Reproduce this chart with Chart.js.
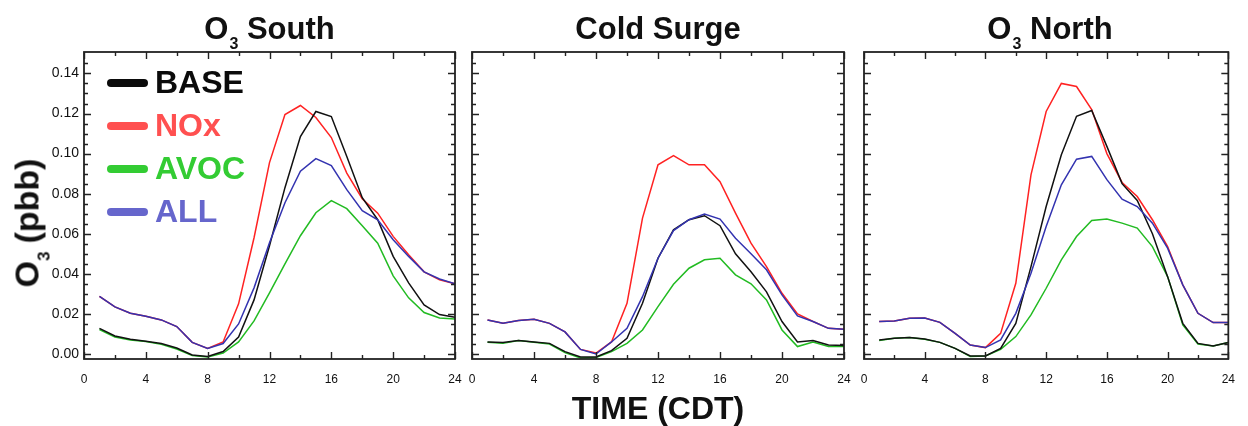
<!DOCTYPE html>
<html>
<head>
<meta charset="utf-8">
<script src="https://cdn.jsdelivr.net/npm/chart.js@4.4.1/dist/chart.umd.min.js"></script>
<style>
  body { margin: 0; width: 1248px; height: 426px; background: #fff; position: relative; overflow: hidden;
         font-family: "Liberation Sans", Arial, sans-serif; }
  canvas { position: absolute; top: 0; }
  .title { position: absolute; top: 13px; text-align: center; font-weight: bold; font-size: 31px;
           line-height: 31px; color: #111; white-space: nowrap; }
  .title span { font-size: 16px; position: relative; top: 10px; margin-left: 1px; }
  #ylab { position: absolute; left: 30px; top: 223px; transform: translate(-50%, -50%) rotate(-90deg);
          font-weight: bold; font-size: 34px; line-height: 34px; color: #111; white-space: nowrap; }
  #ylab span { font-size: 17px; position: relative; top: 11px; margin-right: 8px; }
  #xlab { position: absolute; left: 472px; width: 372px; top: 392px; text-align: center; font-weight: bold;
          font-size: 32px; line-height: 32px; color: #111; }
  #legend { position: absolute; left: 107px; top: 61px; }
  #legend .row { display: flex; align-items: center; height: 43px; }
  #legend i { display: block; width: 41px; height: 8px; border-radius: 4px; margin-right: 7px; }
  #legend b { font-size: 32px; line-height: 43px; }
</style>
</head>
<body>
<canvas id="south" width="475" height="426" style="left:0px"></canvas>
<canvas id="cold" width="412" height="426" style="left:452px"></canvas>
<canvas id="north" width="404" height="426" style="left:844px"></canvas>

<div class="title" style="left:84px;width:371px">O<span>3</span> South</div>
<div class="title" style="left:472px;width:372px">Cold Surge</div>
<div class="title" style="left:864px;width:372px">O<span>3</span> North</div>
<div id="ylab">O<span>3</span>(pbb)</div>
<div id="xlab">TIME (CDT)</div>
<div id="legend"></div>

<script>
const hours = [1, 2, 3, 4, 5, 6, 7, 8, 9, 10, 11, 12, 13, 14, 15, 16, 17, 18, 19, 20, 21, 22, 23, 24];
const xTicks = [0, 4, 8, 12, 16, 20, 24];
const yTicks = [0, 0.02, 0.04, 0.06, 0.08, 0.10, 0.12, 0.14];
const seriesNames = ["BASE", "NOx", "AVOC", "ALL"];

// O3 South
const southBase = [0.0128, 0.0090, 0.0074, 0.0064, 0.0052, 0.0030, -0.0005, -0.0012, 0.0012, 0.0085, 0.0270, 0.0540, 0.0830, 0.1085, 0.1210, 0.1185, 0.0985, 0.0780, 0.0670, 0.0487, 0.0355, 0.0245, 0.0197, 0.0183];
const southNox = [0.0288, 0.0235, 0.0203, 0.0188, 0.0170, 0.0137, 0.0058, 0.0028, 0.0060, 0.0250, 0.0580, 0.0955, 0.1195, 0.1240, 0.1180, 0.1080, 0.0903, 0.0775, 0.0703, 0.0587, 0.0495, 0.0410, 0.0370, 0.0350];
const southAvoc = [0.0122, 0.0085, 0.0070, 0.0062, 0.0048, 0.0025, -0.0008, -0.0015, 0.0005, 0.0060, 0.0165, 0.0305, 0.0450, 0.0590, 0.0705, 0.0765, 0.0725, 0.0640, 0.0553, 0.0390, 0.0280, 0.0207, 0.0180, 0.0175];
const southAll = [0.0288, 0.0235, 0.0203, 0.0188, 0.0170, 0.0137, 0.0058, 0.0028, 0.0052, 0.0150, 0.0330, 0.0555, 0.0755, 0.0912, 0.0975, 0.0940, 0.0820, 0.0715, 0.0670, 0.0570, 0.0487, 0.0410, 0.0374, 0.0350];

// Cold Surge
const coldBase = [0.0060, 0.0057, 0.0067, 0.0060, 0.0053, 0.0012, -0.0015, -0.0015, 0.0017, 0.0078, 0.0253, 0.0478, 0.0620, 0.0670, 0.0690, 0.0640, 0.0500, 0.0410, 0.0310, 0.0162, 0.0060, 0.0067, 0.0045, 0.0042];
const coldNox = [0.0170, 0.0153, 0.0167, 0.0173, 0.0153, 0.0110, 0.0023, 0.0005, 0.0060, 0.0253, 0.0678, 0.0944, 0.0990, 0.0944, 0.0944, 0.0860, 0.0703, 0.0553, 0.0436, 0.0303, 0.0200, 0.0162, 0.0128, 0.0123];
const coldAvoc = [0.0058, 0.0053, 0.0067, 0.0058, 0.0050, 0.0007, -0.0020, -0.0017, 0.0012, 0.0053, 0.0120, 0.0236, 0.0348, 0.0428, 0.0470, 0.0478, 0.0395, 0.0350, 0.0270, 0.0120, 0.0037, 0.0060, 0.0037, 0.0037];
const coldAll = [0.0170, 0.0153, 0.0167, 0.0173, 0.0153, 0.0110, 0.0023, 0.0000, 0.0060, 0.0128, 0.0286, 0.0478, 0.0616, 0.0670, 0.0698, 0.0673, 0.0578, 0.0500, 0.0420, 0.0295, 0.0190, 0.0162, 0.0128, 0.0123];

// O3 North
const northBase = [0.0070, 0.0078, 0.0082, 0.0075, 0.0058, 0.0028, -0.0010, -0.0010, 0.0028, 0.0153, 0.0436, 0.0736, 0.0994, 0.1186, 0.1215, 0.1036, 0.0850, 0.0766, 0.0600, 0.0386, 0.0153, 0.0053, 0.0040, 0.0057];
const northNox = [0.0162, 0.0165, 0.0178, 0.0180, 0.0158, 0.0103, 0.0045, 0.0032, 0.0103, 0.0353, 0.0894, 0.1210, 0.1350, 0.1335, 0.1220, 0.1000, 0.0856, 0.0786, 0.0670, 0.0536, 0.0345, 0.0203, 0.0157, 0.0157];
const northAvoc = [0.0067, 0.0078, 0.0082, 0.0073, 0.0058, 0.0028, -0.0013, -0.0010, 0.0023, 0.0087, 0.0195, 0.0328, 0.0470, 0.0586, 0.0666, 0.0673, 0.0653, 0.0628, 0.0536, 0.0386, 0.0145, 0.0050, 0.0040, 0.0057];
const northAll = [0.0162, 0.0165, 0.0178, 0.0180, 0.0158, 0.0103, 0.0045, 0.0032, 0.0070, 0.0203, 0.0403, 0.0636, 0.0844, 0.0972, 0.0986, 0.0870, 0.0773, 0.0736, 0.0653, 0.0528, 0.0345, 0.0203, 0.0157, 0.0157];

const lineColors = ["#111111", "#ff2222", "#22bb22", "#3333b0"];
const legendColors = ["#0b0b0b", "#ff5050", "#33cc33", "#6666cc"];
const drawOrder = [1, 3, 2, 0];

const FONT = '"Liberation Sans", Arial, sans-serif';

// legend (html, sits inside the first panel)
const legend = document.getElementById("legend");
seriesNames.forEach((name, i) => {
    legend.innerHTML += `<div class="row"><i style="background:${legendColors[i]}"></i><b style="color:${legendColors[i]}">${name}</b></div>`;
});

// box frame + inward ticks on all four sides
const boxTicks = {
    id: "boxTicks",
    afterDatasetsDraw(chart) {
        const { ctx, chartArea: a, scales } = chart;
        const x = scales.x, y = scales.y;
        ctx.save();
        ctx.strokeStyle = "#222";
        ctx.lineWidth = 1.4;
        ctx.beginPath();
        for (let h = 0; h <= 24; h += 2) {
            const px = Math.round(x.getPixelForValue(h)) + 0.5;
            const len = h % 4 === 0 ? 7 : 4;
            ctx.moveTo(px, a.bottom); ctx.lineTo(px, a.bottom - len);
            ctx.moveTo(px, a.top); ctx.lineTo(px, a.top + len);
        }
        for (let k = 0; k <= 30; k++) {
            const py = Math.round(y.getPixelForValue(k * 0.005)) + 0.5;
            if (py < a.top + 2) continue;
            const len = k % 4 === 0 ? 7 : 4;
            ctx.moveTo(a.left, py); ctx.lineTo(a.left + len, py);
            ctx.moveTo(a.right, py); ctx.lineTo(a.right - len, py);
        }
        ctx.stroke();
        ctx.lineWidth = 1.8;
        ctx.strokeRect(a.left, a.top, a.right - a.left, a.bottom - a.top);
        ctx.restore();
    }
};

function makePanel(id, series, showY, pad) {
    const datasets = series.map((vals, i) => ({
        label: seriesNames[i],
        data: hours.map((h, j) => ({ x: h, y: vals[j] })),
        borderColor: lineColors[i],
        borderWidth: 1.5,
        pointRadius: 0,
        tension: 0,
        order: drawOrder[i]
    }));
    return new Chart(document.getElementById(id), {
        type: "line",
        data: { datasets },
        plugins: [boxTicks],
        options: {
            responsive: false,
            animation: false,
            events: [],
            layout: { padding: pad },
            plugins: { legend: { display: false }, tooltip: { enabled: false } },
            scales: {
                x: {
                    type: "linear",
                    min: 0,
                    max: 24,
                    grid: { display: false, drawTicks: false },
                    border: { display: false },
                    afterBuildTicks: s => { s.ticks = xTicks.map(v => ({ value: v })); },
                    afterFit: s => { s.height = 30; },
                    ticks: {
                        autoSkip: false,
                        maxRotation: 0,
                        padding: 13,
                        color: "#111",
                        font: { family: FONT, size: 12 }
                    }
                },
                y: {
                    display: showY,
                    min: -0.0025,
                    max: 0.1507,
                    grid: { display: false, drawTicks: false },
                    border: { display: false },
                    afterBuildTicks: s => { s.ticks = yTicks.map(v => ({ value: v })); },
                    afterFit: s => { s.width = showY ? 84 : 0; },
                    ticks: {
                        padding: 5,
                        color: "#111",
                        font: { family: FONT, size: 14 },
                        callback: v => v.toFixed(2)
                    }
                }
            }
        }
    });
}

makePanel("south", [southBase, southNox, southAvoc, southAll], true, { left: 0, right: 20, top: 52, bottom: 37 });
makePanel("cold", [coldBase, coldNox, coldAvoc, coldAll], false, { left: 20, right: 20, top: 52, bottom: 37 });
makePanel("north", [northBase, northNox, northAvoc, northAll], false, { left: 20, right: 12, top: 52, bottom: 37 });
</script>
</body>
</html>
